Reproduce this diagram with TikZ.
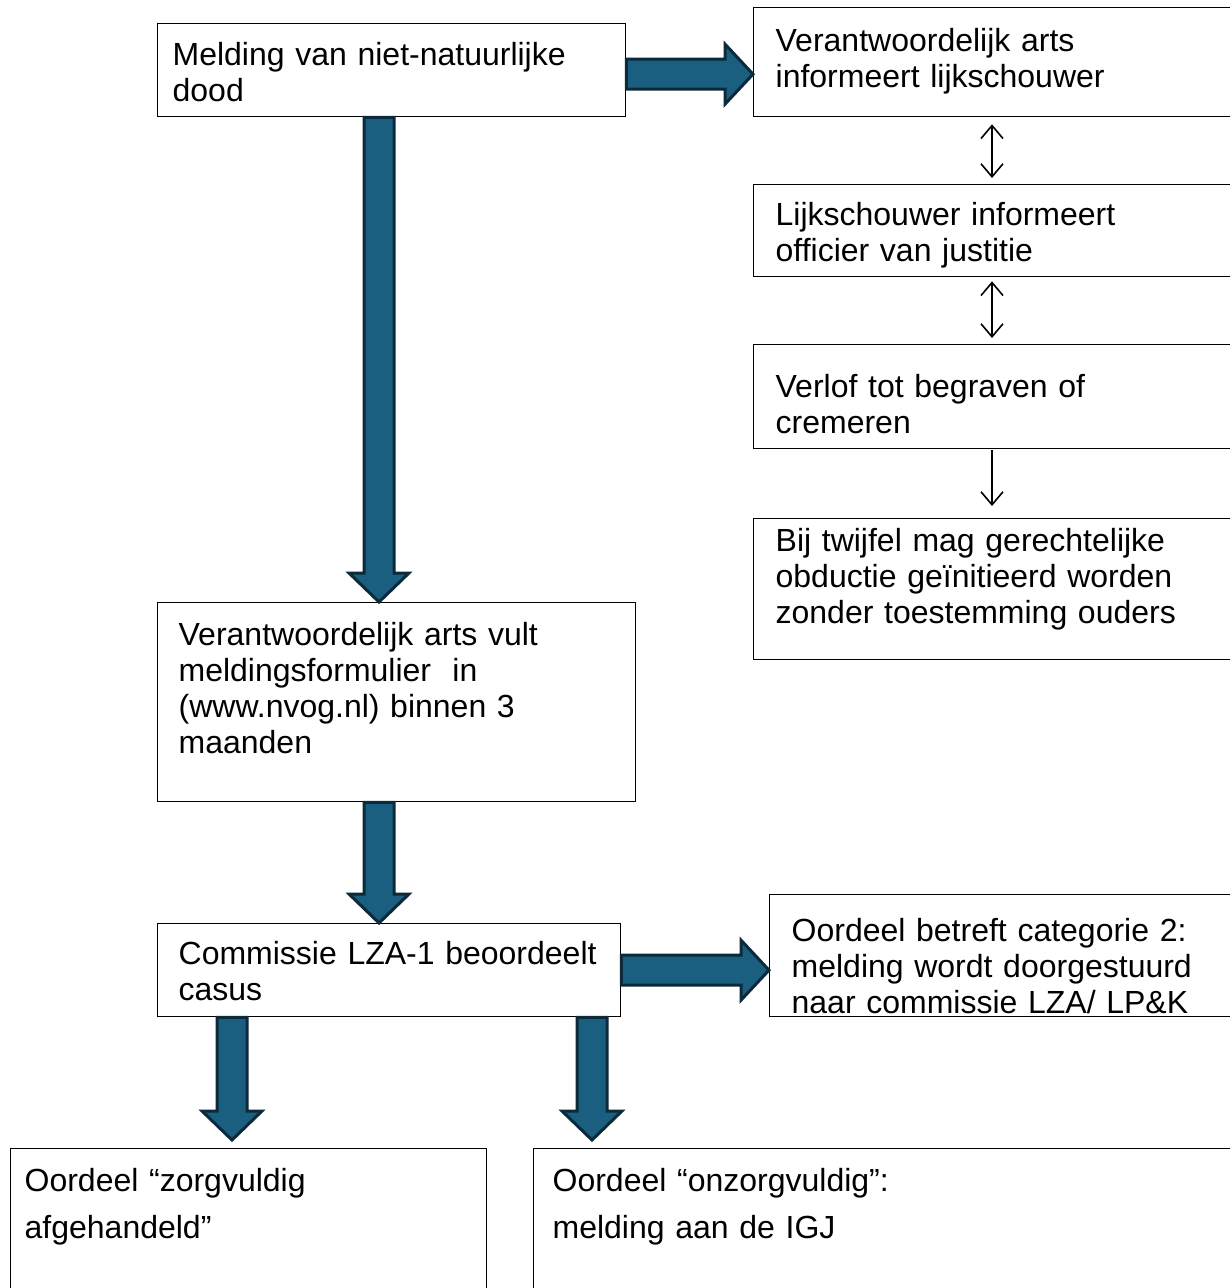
\documentclass[tikz,border=0pt]{standalone}
\usepackage{fontspec}
\setmainfont{Liberation Sans}
\usetikzlibrary{arrows.meta,calc}
\definecolor{arrowblue}{RGB}{26,95,128}
\definecolor{arrowdark}{RGB}{12,42,58}

\begin{document}
\begin{tikzpicture}[x=1pt,y=-1pt,
  box/.style={draw,line width=1.3pt,anchor=north west,align=left,inner ysep=0pt,inner xsep=21pt,
    font=\fontsize{32}{36}\selectfont},
  bigarrow/.style={fill=arrowblue,draw=arrowdark,line width=3pt,line join=miter},
  downblock/.style={bigarrow,to path={let \p1=(\tikztostart),\p2=(\tikztotarget) in
    (\x1-15pt,\y1) -- (\x1-15pt,\y2+29pt) -- (\x1-30pt,\y2+29pt) -- (\x1,\y2)
    -- (\x1+30pt,\y2+29pt) -- (\x1+15pt,\y2+29pt) -- (\x1+15pt,\y1) -- cycle}},
  rightblock/.style={bigarrow,to path={let \p1=(\tikztostart),\p2=(\tikztotarget) in
    (\x1,\y1+15pt) -- (\x2-28pt,\y1+15pt) -- (\x2-28pt,\y1+30pt) -- (\x2,\y1)
    -- (\x2-28pt,\y1-30pt) -- (\x2-28pt,\y1-15pt) -- (\x1,\y1-15pt) -- cycle}},
  oneway/.style={line width=1.6pt,-{Straight Barb[length=13pt,width=22pt]}},
  twoway/.style={line width=1.6pt,{Straight Barb[length=13pt,width=22pt]}-{Straight Barb[length=13pt,width=22pt]}}]

  \path[use as bounding box,clip] (0,0) rectangle (1230,1288);

  % left column
  \node[box,inner xsep=15pt,text width=438pt,text height=42pt,text depth=51pt] (melding) at (157,23)
    {Melding van niet-natuurlijke\\dood};
  \node[box,text width=436pt,text height=43pt,text depth=156pt] (vult) at (157,602)
    {Verantwoordelijk arts vult\\meldingsformulier~ in\\(www.nvog.nl) binnen 3\\maanden};
  \node[box,text width=421pt,text height=41pt,text depth=52pt] (commissie) at (157,923)
    {Commissie LZA-1 beoordeelt\\casus};

  % right column
  \node[box,inner xsep=22pt,text width=500pt,text height=44pt,text depth=65pt] (informeert) at (753,7)
    {Verantwoordelijk arts\\informeert lijkschouwer};
  \node[box,inner xsep=22pt,text width=500pt,text height=41pt,text depth=51pt] (lijkschouwer) at (753,184)
    {Lijkschouwer informeert\\officier van justitie};
  \node[box,inner xsep=22pt,text width=500pt,text height=53pt,text depth=51pt] (verlof) at (753,344)
    {Verlof tot begraven of\\cremeren};
  \node[box,inner xsep=22pt,text width=500pt,text height=33pt,text depth=108pt] (twijfel) at (753,518)
    {Bij twijfel mag gerechtelijke\\obductie geïnitieerd worden\\zonder toestemming ouders};
  \node[box,inner xsep=22pt,text width=500pt,text height=47pt,text depth=75pt] (categorie) at (769,894)
    {Oordeel betreft categorie 2:\\melding wordt doorgestuurd\\naar commissie LZA/ LP\&K};

  % bottom row
  \node[box,inner xsep=14pt,text width=448pt,text height=43pt,text depth=140pt,
    font=\fontsize{32}{47}\selectfont] (zorgvuldig) at (10,1148)
    {Oordeel “zorgvuldig\\afgehandeld”};
  \node[box,inner xsep=19pt,text width=700pt,text height=43pt,text depth=140pt,
    font=\fontsize{32}{47}\selectfont] (onzorgvuldig) at (533,1148)
    {Oordeel “onzorgvuldig”:\\melding aan de IGJ};

  % block arrows
  \coordinate (m0) at ([yshift=-4pt]melding.east);
  \coordinate (m1) at ([xshift=222pt]melding.south west);
  \coordinate (v1) at ([xshift=222pt]vult.south west);
  \coordinate (c1) at ([xshift=75pt]commissie.south west);
  \coordinate (c2) at ([xshift=435pt]commissie.south west);
  \coordinate (z1) at (c1 |- zorgvuldig.north);
  \coordinate (z2) at (c2 |- onzorgvuldig.north);

  \draw[rightblock] (m0) to (m0 -| informeert.west);
  \draw[downblock] (m1) to (m1 |- vult.north);
  \draw[downblock] (v1) to (v1 |- commissie.north);
  \draw[rightblock] (commissie.east) to (commissie.east -| categorie.west);
  \draw[downblock] (c1) to ([yshift=8pt]z1);
  \draw[downblock] (c2) to ([yshift=8pt]z2);

  % thin arrows
  \coordinate (r) at (992,0);
  \draw[twoway,shorten <=7pt,shorten >=6pt] (r |- informeert.south) -- (r |- lijkschouwer.north);
  \draw[twoway,shorten <=4pt,shorten >=6pt] (r |- lijkschouwer.south) -- (r |- verlof.north);
  \draw[oneway,shorten <=1pt,shorten >=12pt] (r |- verlof.south) -- (r |- twijfel.north);
\end{tikzpicture}
\end{document}
